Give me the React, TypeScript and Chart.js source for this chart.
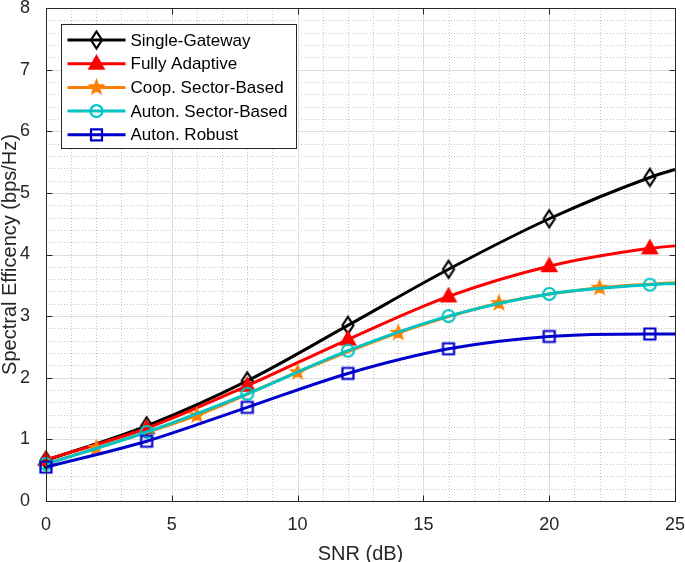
import React, { useEffect, useRef } from 'react';
import { Chart, registerables } from 'chart.js';
Chart.register(...registerables);

// ---- data ----
const snrMain = [0, 4, 8, 12, 16, 20, 24, 25];
const snrCoop = [0, 2, 6, 10, 14, 18, 22, 25];
const singleGateway = [0.66, 1.22, 1.95, 2.85, 3.76, 4.58, 5.25, 5.38];
const fullyAdaptive = [0.67, 1.18, 1.87, 2.62, 3.32, 3.81, 4.1, 4.14];
const coopSector = [0.6, 0.86, 1.39, 2.09, 2.73, 3.21, 3.46, 3.54];
const autonSector = [0.6, 1.12, 1.74, 2.44, 3.0, 3.36, 3.51, 3.53];
const autonRobust = [0.55, 0.97, 1.52, 2.07, 2.47, 2.67, 2.71, 2.71];
const seriesLabels = ['Single-Gateway', 'Fully Adaptive', 'Coop. Sector-Based', 'Auton. Sector-Based', 'Auton. Robust'];
const seriesColors = ['#000000', '#ff0000', '#ff8000', '#00c4c4', '#0000cc'];
const seriesMarkers = ['diamond', 'triangle', 'pentagram', 'circle', 'square'];
const xTitle = 'SNR (dB)';
const yTitle = 'Spectral Efficency (bps/Hz)';

const FONT = '"Liberation Sans", Arial, Helvetica, sans-serif';
const AXIS = '#262626';

function drawMarker(ctx: CanvasRenderingContext2D, type: string, x: number, y: number, color: string) {
  ctx.save();
  ctx.strokeStyle = color;
  ctx.fillStyle = color;
  ctx.lineWidth = 2.2;
  ctx.setLineDash([]);
  ctx.beginPath();
  if (type === 'diamond') {
    ctx.moveTo(x, y - 8.5);
    ctx.lineTo(x + 5.5, y);
    ctx.lineTo(x, y + 8.5);
    ctx.lineTo(x - 5.5, y);
    ctx.closePath();
    ctx.stroke();
  } else if (type === 'triangle') {
    ctx.moveTo(x, y - 7.5);
    ctx.lineTo(x + 7, y + 5);
    ctx.lineTo(x - 7, y + 5);
    ctx.closePath();
    ctx.fill();
    ctx.stroke();
  } else if (type === 'pentagram') {
    const ro = 7.5, ri = 3.2;
    for (let i = 0; i < 10; i++) {
      const r = i % 2 === 0 ? ro : ri;
      const a = -Math.PI / 2 + (i * Math.PI) / 5;
      const px = x + r * Math.cos(a), py = y + r * Math.sin(a);
      if (i === 0) ctx.moveTo(px, py); else ctx.lineTo(px, py);
    }
    ctx.closePath();
    ctx.lineWidth = 1.5;
    ctx.fill();
    ctx.stroke();
  } else if (type === 'circle') {
    ctx.arc(x, y, 6, 0, Math.PI * 2);
    ctx.stroke();
  } else if (type === 'square') {
    ctx.rect(x - 5.5, y - 5.5, 11, 11);
    ctx.stroke();
  }
  ctx.restore();
}

function markerCanvas(type: string, color: string) {
  const c = document.createElement('canvas');
  c.width = 22;
  c.height = 22;
  const ctx = c.getContext('2d')!;
  drawMarker(ctx, type, 11, 11, color);
  return c;
}

const gridPlugin = {
  id: 'matlabGrid',
  beforeDatasetsDraw(chart: any) {
    const { ctx, chartArea: a, scales } = chart;
    const xs = scales.x, ys = scales.y;
    ctx.save();
    ctx.strokeStyle = '#c4c4c4';
    ctx.lineWidth = 1;
    ctx.setLineDash([1, 2]);
    for (let v = 1; v < 25; v++) {
      if (v % 5 === 0) continue;
      const px = Math.round(xs.getPixelForValue(v)) + 0.5;
      ctx.beginPath(); ctx.moveTo(px, a.top); ctx.lineTo(px, a.bottom); ctx.stroke();
    }
    for (let k = 1; k < 40; k++) {
      if (k % 5 === 0) continue;
      const py = Math.round(ys.getPixelForValue(k * 0.2)) + 0.5;
      ctx.beginPath(); ctx.moveTo(a.left, py); ctx.lineTo(a.right, py); ctx.stroke();
    }
    ctx.setLineDash([]);
    ctx.strokeStyle = '#dedede';
    for (let v = 5; v < 25; v += 5) {
      const px = Math.round(xs.getPixelForValue(v)) + 0.5;
      ctx.beginPath(); ctx.moveTo(px, a.top); ctx.lineTo(px, a.bottom); ctx.stroke();
    }
    for (let v = 1; v < 8; v++) {
      const py = Math.round(ys.getPixelForValue(v)) + 0.5;
      ctx.beginPath(); ctx.moveTo(a.left, py); ctx.lineTo(a.right, py); ctx.stroke();
    }
    ctx.restore();
  },
  afterDatasetsDraw(chart: any) {
    const { ctx, chartArea: a, scales } = chart;
    const xs = scales.x, ys = scales.y;
    ctx.save();
    ctx.setLineDash([]);
    ctx.strokeStyle = AXIS;
    ctx.lineWidth = 1;
    const L = Math.round(a.left) + 0.5, R = Math.round(a.right) + 0.5;
    const T = Math.round(a.top) + 0.5, B = Math.round(a.bottom) + 0.5;
    ctx.strokeRect(L, T, R - L, B - T);
    const tl = 6;
    for (let v = 0; v <= 25; v += 5) {
      const px = Math.round(xs.getPixelForValue(v)) + 0.5;
      ctx.beginPath();
      ctx.moveTo(px, B); ctx.lineTo(px, B - tl);
      ctx.moveTo(px, T); ctx.lineTo(px, T + tl);
      ctx.stroke();
    }
    for (let v = 0; v <= 8; v++) {
      const py = Math.round(ys.getPixelForValue(v)) + 0.5;
      ctx.beginPath();
      ctx.moveTo(L, py); ctx.lineTo(L + tl, py);
      ctx.moveTo(R, py); ctx.lineTo(R - tl, py);
      ctx.stroke();
    }
    // legend
    const bx = Math.round(a.left + 15) + 0.5, by = Math.round(a.top + 16) + 0.5;
    const bw = 235, bh = 124;
    ctx.fillStyle = '#ffffff';
    ctx.fillRect(bx, by, bw, bh);
    ctx.strokeStyle = AXIS;
    ctx.strokeRect(bx, by, bw, bh);
    ctx.font = `17px ${FONT}`;
    ctx.textBaseline = 'middle';
    ctx.textAlign = 'left';
    seriesLabels.forEach((lab, i) => {
      const y = by + 15.5 + i * 23.7;
      ctx.strokeStyle = seriesColors[i];
      ctx.lineWidth = 3;
      ctx.beginPath();
      ctx.moveTo(bx + 6, y); ctx.lineTo(bx + 64, y);
      ctx.stroke();
      drawMarker(ctx, seriesMarkers[i], bx + 35, y, seriesColors[i]);
      ctx.fillStyle = '#000000';
      ctx.fillText(lab, bx + 69, y + 1);
    });
    ctx.restore();
  },
};

const zeroPad = (s: any) => {
  s.paddingLeft = 0;
  s.paddingRight = 0;
  s.paddingTop = 0;
  s.paddingBottom = 0;
};

export default function App() {
  const ref = useRef<HTMLCanvasElement | null>(null);
  useEffect(() => {
    if (!ref.current) return;
    const series = [singleGateway, fullyAdaptive, coopSector, autonSector, autonRobust];
    const datasets = series.map((vals, i) => {
      const xs = i === 2 ? snrCoop : snrMain;
      const radii = xs.map((x, j) => {
        if (j === xs.length - 1) return 0;
        if (i === 2 && j === 0) return 0;
        return 11;
      });
      return {
        label: seriesLabels[i],
        data: vals.map((y, j) => ({ x: xs[j], y })),
        borderColor: seriesColors[i],
        backgroundColor: seriesColors[i],
        borderWidth: 3,
        pointStyle: markerCanvas(seriesMarkers[i], seriesColors[i]) as any,
        pointRadius: radii,
        pointHoverRadius: radii,
        cubicInterpolationMode: 'monotone' as const,
        fill: false,
        order: 4 - i,
        clip: false as any,
      };
    });
    const chart = new Chart(ref.current, {
      type: 'line',
      data: { datasets },
      options: {
        animation: false,
        responsive: true,
        maintainAspectRatio: false,
        layout: { padding: { top: 0, right: 0, left: 0, bottom: 0 } },
        plugins: { legend: { display: false }, tooltip: { enabled: false } },
        scales: {
          x: {
            type: 'linear',
            min: 0,
            max: 25,
            ticks: { stepSize: 5, color: AXIS, font: { family: FONT, size: 18 }, padding: 5, maxRotation: 0 },
            grid: { display: false },
            border: { display: false },
            title: { display: true, text: xTitle, color: AXIS, font: { family: FONT, size: 20, lineHeight: 1 }, padding: { top: 0, bottom: -2 } },
            afterFit: (s: any) => { s.height = 61; zeroPad(s); },
          },
          y: {
            type: 'linear',
            min: 0,
            max: 8,
            ticks: { stepSize: 1, color: AXIS, font: { family: FONT, size: 18 }, padding: 8 },
            grid: { display: false },
            border: { display: false },
            title: { display: true, text: yTitle, color: AXIS, font: { family: FONT, size: 20, lineHeight: 1 }, padding: { top: 0, bottom: 0 } },
            afterFit: (s: any) => { s.width = 46; zeroPad(s); },
          },
        },
      },
      plugins: [gridPlugin],
    });
    return () => chart.destroy();
  }, []);
  return (
    <div style={{ position: 'fixed', left: 0, top: -6, width: 689, height: 568, background: '#ffffff' }}>
      <canvas ref={ref} />
    </div>
  );
}
